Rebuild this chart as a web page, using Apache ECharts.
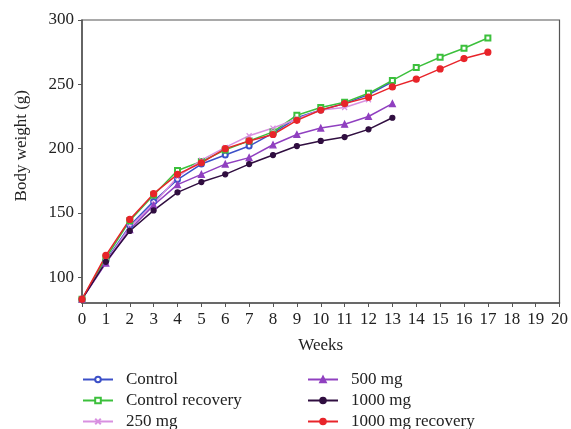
<!DOCTYPE html>
<html>
<head>
<meta charset="utf-8">
<script src="https://cdn.jsdelivr.net/npm/echarts@6/dist/echarts.min.js"></script>
<style>html,body{margin:0;padding:0;background:#fff}#c{width:571px;height:429px}</style>
</head>
<body>
<div id="c"></div>
<script>
const weeks = [0,1,2,3,4,5,6,7,8,9,10,11,12,13,14,15,16,17];
const control = [83,113,140,159,176,188,195,202,212,224,230,235,242,252];
const controlRecovery = [83,115,144,164,183,190,199,206,213,226,232,236,243,253,263,271,278,286];
const mg250 = [83,112,139,157,178,191,201,210,216,223,230,232,238];
const mg500 = [83,111,137,156,172,180,188,193,203,211,216,219,225,235];
const mg1000 = [83,112,136,152,166,174,180,188,195,202,206,209,215,224];
const mg1000Recovery = [83,117,145,165,180,189,200,206,211,222,230,235,240,248,254,262,270,275];
const xTicks = [0,1,2,3,4,5,6,7,8,9,10,11,12,13,14,15,16,17,18,19,20];
const yTicks = [100,150,200,250,300];
const seriesNames = ['Control', 'Control recovery', '250 mg', '500 mg', '1000 mg', '1000 mg recovery'];

const FONT = '"Liberation Serif", "Times New Roman", serif';
const pairs = arr => arr.map((v,i) => [weeks[i], v]);

function mk(name, data, color, symbol, size) {
  return {
    name, type: 'line', data: pairs(data),
    symbol, symbolSize: size,
    lineStyle: { color, width: 1.5 },
    itemStyle: { color, borderColor: color, borderWidth: 1.2 },
    emphasis: { disabled: true },
    animation: false
  };
}

const legendPos = [[82,371],[82,392],[82,413],[307,371],[307,392],[307,413]];
const legends = seriesNames.map((n, i) => ({
  data: [n], orient: 'horizontal', left: legendPos[i][0], top: legendPos[i][1],
  padding: 0, itemWidth: 30, itemHeight: 7,
  textStyle: { fontFamily: FONT, fontSize: 17, color: '#222', padding: [0,0,0,8] }
}));

const chart = echarts.init(document.getElementById('c'));
chart.setOption({
  animation: false,
  grid: { left: 82, right: 10, top: 20, bottom: 126, show: true, borderColor: '#555', borderWidth: 1.2 },
  legend: legends,
  xAxis: {
    type: 'value', min: 0, max: 20, interval: 1,
    name: 'Weeks', nameLocation: 'middle', nameGap: 34,
    nameTextStyle: { fontFamily: FONT, fontSize: 17, color: '#222' },
    axisLine: { show: true, lineStyle: { color: '#555', width: 1.5 } },
    axisTick: { show: true, length: 4, lineStyle: { color: '#555' } },
    axisLabel: { fontFamily: FONT, fontSize: 17, color: '#222', margin: 8, customValues: xTicks },
    splitLine: { show: false }
  },
  yAxis: {
    type: 'value', min: 80, max: 300,
    axisLine: { show: true, lineStyle: { color: '#555', width: 1.5 } },
    axisTick: { show: true, length: 4, lineStyle: { color: '#555' }, customValues: yTicks },
    axisLabel: { fontFamily: FONT, fontSize: 17, color: '#222', margin: 8, customValues: yTicks },
    splitLine: { show: false }
  },
  graphic: [{
    type: 'text', left: 13, top: 90, rotation: Math.PI / 2,
    style: { text: 'Body weight (g)', font: '17px ' + FONT, fill: '#222' }
  }],
  series: [
    mk(seriesNames[0], control, '#3c50c8', 'emptyCircle', 5),
    mk(seriesNames[1], controlRecovery, '#3cc03c', 'emptyRect', 5),
    mk(seriesNames[2], mg250, '#d890e0', 'path://M0,0L10,10M10,0L0,10', 5),
    mk(seriesNames[3], mg500, '#9040c0', 'triangle', 6),
    mk(seriesNames[4], mg1000, '#300e40', 'circle', 5),
    mk(seriesNames[5], mg1000Recovery, '#e8242a', 'circle', 6)
  ]
});
</script>
</body>
</html>
